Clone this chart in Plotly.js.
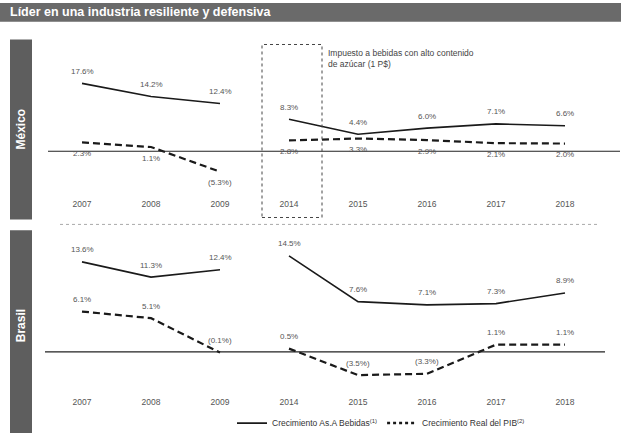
<!DOCTYPE html>
<html>
<head>
<meta charset="utf-8">
<script src="https://cdn.plot.ly/plotly-3.0.1.min.js"></script>
<style>html,body{margin:0;padding:0;background:#fff;}#chart{width:621px;height:438px;}</style>
</head>
<body>
<div id="chart"></div>
<script>
// ---- data ----
const years = ['2007','2008','2009','2014','2015','2016','2017','2018'];
const mxBebidas = [17.6, 14.2, 12.4, 8.3, 4.4, 6.0, 7.1, 6.6];
const mxPIB     = [2.3, 1.1, -5.3, 2.8, 3.3, 2.9, 2.1, 2.0];
const brBebidas = [13.6, 11.3, 12.4, 14.5, 7.6, 7.1, 7.3, 8.9];
const brPIB     = [6.1, 5.1, -0.1, 0.5, -3.5, -3.3, 1.1, 1.1];
const seriesNames = ['Crecimiento As.A Bebidas<sup>(1)</sup>', 'Crecimiento Real del PIB<sup>(2)</sup>'];
const panelNames = ['México', 'Brasil'];
const titleText = 'Líder en una industria resiliente y defensiva';
const noteText = 'Impuesto a bebidas con alto contenido<br>de azúcar (1 P$)';

const W = 621, H = 438;
const FONT = 'Liberation Sans, Arial, sans-serif';
const LBL = '#555';
const fmt = v => v < 0 ? '(' + Math.abs(v).toFixed(1) + '%)' : v.toFixed(1) + '%';
const segs = [[0, 3], [3, 8]];

const traces = [];
const annotations = [];
function addSeries(vals, xa, ya, dashed, shift) {
  segs.forEach(([a, b]) => {
    traces.push({
      x: years.slice(a, b), y: vals.slice(a, b),
      xaxis: xa, yaxis: ya, type: 'scatter', mode: 'lines',
      line: {color: '#1a1a1a', width: dashed ? 2.2 : 1.6, dash: dashed ? '7px,4px' : 'solid'},
      showlegend: false, cliponaxis: false, hoverinfo: 'skip'
    });
  });
  vals.forEach((v, i) => {
    annotations.push({text: fmt(v), x: i, y: v, xref: xa, yref: ya, yshift: shift,
      showarrow: false, xanchor: 'center', yanchor: 'middle',
      font: {family: FONT, size: 8, color: LBL}});
  });
}
addSeries(mxBebidas, 'x', 'y', false, 12);
addSeries(mxPIB, 'x', 'y', true, -11);
addSeries(brBebidas, 'x2', 'y2', false, 12);
addSeries(brPIB, 'x2', 'y2', true, 12);
// legend entries
traces.push({x: [null], y: [null], type: 'scatter', mode: 'lines', name: seriesNames[0],
  line: {color: '#1a1a1a', width: 1.6}, xaxis: 'x2', yaxis: 'y2'});
traces.push({x: [null], y: [null], type: 'scatter', mode: 'lines', name: seriesNames[1],
  line: {color: '#1a1a1a', width: 2.5, dash: 'dot'}, xaxis: 'x2', yaxis: 'y2'});

const px = v => v / W;
const py = v => 1 - v / H;
// x: category i at pixel 82 + 69*i
const xr = [-82 / 69, (W - 82) / 69];
const xBase = {type: 'category', categoryorder: 'array', categoryarray: years, range: xr, domain: [0, 1],
  showgrid: false, zeroline: false, showline: false, ticks: '', fixedrange: true,
  tickfont: {family: FONT, size: 8.5, color: LBL}};
const yBase = {showgrid: false, zeroline: false, showline: false, ticks: '', showticklabels: false, fixedrange: true};

const gray = '#5e5e5e';
const shapes = [
  {type: 'rect', xref: 'paper', yref: 'paper', x0: 0, x1: 1, y0: py(22), y1: py(3), fillcolor: '#6a6a6a', line: {width: 0}, layer: 'below'},
  {type: 'rect', xref: 'paper', yref: 'paper', x0: px(10), x1: px(32), y0: py(222), y1: py(40), fillcolor: gray, line: {width: 0}, layer: 'below'},
  {type: 'rect', xref: 'paper', yref: 'paper', x0: px(10), x1: px(32), y0: py(438), y1: py(233), fillcolor: gray, line: {width: 0}, layer: 'below'},
  {type: 'line', xref: 'paper', yref: 'y', x0: px(48), x1: px(620), y0: 0, y1: 0, line: {color: '#222', width: 1.2}},
  {type: 'line', xref: 'paper', yref: 'y2', x0: px(45), x1: px(605), y0: 0, y1: 0, line: {color: '#222', width: 1.2}},
  {type: 'line', xref: 'paper', yref: 'paper', x0: px(60), x1: px(600), y0: py(227), y1: py(227), line: {color: '#aaa', width: 1, dash: 'dot'}},
  {type: 'rect', xref: 'paper', yref: 'paper', x0: px(262), x1: px(322), y0: py(220), y1: py(45), line: {color: '#444', width: 1, dash: 'dot'}}
];

annotations.push(
  {text: '<b>' + titleText + '</b>', xref: 'paper', yref: 'paper', x: px(8), y: py(12.5), xanchor: 'left', yanchor: 'middle',
   showarrow: false, font: {family: FONT, size: 12.5, color: '#fff'}},
  {text: '<b>' + panelNames[0] + '</b>', xref: 'paper', yref: 'paper', x: px(21), y: py(131), textangle: -90,
   xanchor: 'center', yanchor: 'middle', showarrow: false, font: {family: FONT, size: 12, color: '#fff'}},
  {text: '<b>' + panelNames[1] + '</b>', xref: 'paper', yref: 'paper', x: px(21), y: py(330), textangle: -90,
   xanchor: 'center', yanchor: 'middle', showarrow: false, font: {family: FONT, size: 12, color: '#fff'}},
  {text: noteText, xref: 'paper', yref: 'paper', x: px(326), y: py(47), xanchor: 'left', yanchor: 'top', align: 'left',
   showarrow: false, font: {family: FONT, size: 8.5, color: '#444'}}
);

const layout = {
  width: W, height: H, margin: {l: 0, r: 0, t: 0, b: 0},
  paper_bgcolor: '#fff', plot_bgcolor: 'rgba(0,0,0,0)',
  font: {family: FONT, color: LBL},
  xaxis: Object.assign({}, xBase, {anchor: 'y'}),
  xaxis2: Object.assign({}, xBase, {anchor: 'y2'}),
  yaxis: Object.assign({}, yBase, {anchor: 'x', domain: [py(200), py(45)], range: [(153 - 200) / 3.9, (153 - 45) / 3.9]}),
  yaxis2: Object.assign({}, yBase, {anchor: 'x2', domain: [py(400), py(245)], range: [(356 - 400) / 6.7, (356 - 245) / 6.7]}),
  showlegend: true,
  legend: {orientation: 'h', x: px(232), xanchor: 'left', y: py(428), yanchor: 'middle',
    font: {family: FONT, size: 8.5, color: '#333'}, itemwidth: 30, bgcolor: 'rgba(0,0,0,0)', tracegroupgap: 0},
  shapes: shapes, annotations: annotations
};

Plotly.newPlot('chart', traces, layout, {displayModeBar: false, staticPlot: true});
</script>
</body>
</html>
